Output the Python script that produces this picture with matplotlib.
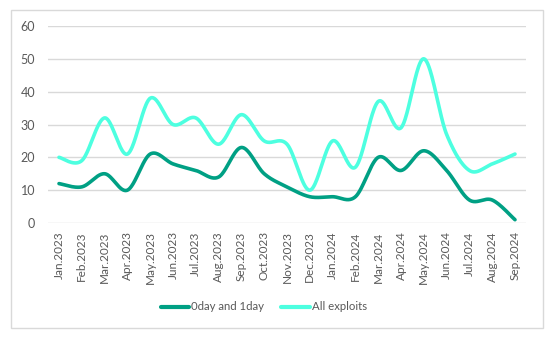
import numpy as np
import matplotlib
matplotlib.use("Agg")
import matplotlib.pyplot as plt
from matplotlib.patches import Rectangle

months = ["Jan.2023", "Feb.2023", "Mar.2023", "Apr.2023", "May.2023", "Jun.2023",
          "Jul.2023", "Aug.2023", "Sep.2023", "Oct.2023", "Nov.2023", "Dec.2023",
          "Jan.2024", "Feb.2024", "Mar.2024", "Apr.2024", "May.2024", "Jun.2024",
          "Jul.2024", "Aug.2024", "Sep.2024"]
zero_one_day = [12, 11, 15, 10, 21, 18, 16, 14, 23, 15, 11, 8,
                8, 8, 20, 16, 22, 16, 7, 7, 1]
all_exploits = [20, 19, 32, 21, 38, 30, 32, 24, 33, 25, 24, 10,
                25, 17, 37, 29, 50, 27, 16, 18, 21]

TEAL = "#00A084"
CYAN = "#4DFFE0"
GRID = "#D9D9D9"
TEXT = "#595959"


def smooth(y, n=40):
    """Cubic Bezier smoothing through every point (Catmull-Rom style)."""
    y = np.asarray(y, dtype=float)
    x = np.arange(len(y), dtype=float)
    px = np.concatenate([[x[0]], x, [x[-1]]])
    py = np.concatenate([[y[0]], y, [y[-1]]])
    xs, ys = [], []
    t = np.linspace(0, 1, n)
    for i in range(len(y) - 1):
        p0 = np.array([px[i + 1], py[i + 1]])
        p3 = np.array([px[i + 2], py[i + 2]])
        c1 = p0 + (np.array([px[i + 2], py[i + 2]]) - np.array([px[i], py[i]])) / 6
        c2 = p3 - (np.array([px[i + 3], py[i + 3]]) - np.array([px[i + 1], py[i + 1]])) / 6
        b = ((1 - t) ** 3)[:, None] * p0 + (3 * (1 - t) ** 2 * t)[:, None] * c1 \
            + (3 * (1 - t) * t ** 2)[:, None] * c2 + (t ** 3)[:, None] * p3
        xs.append(b[:, 0])
        ys.append(b[:, 1])
    return np.concatenate(xs), np.concatenate(ys)


plt.rcParams["font.family"] = ["Lato", "DejaVu Sans"]

W, H = 554, 337
fig = plt.figure(figsize=(W / 100, H / 100), dpi=100)
fig.patches.append(Rectangle((11 / W, 1 - 328 / H), 532 / W, 318 / H,
                             transform=fig.transFigure, fill=False,
                             edgecolor=GRID, linewidth=1.0))

ax = fig.add_axes([47.6 / W, 1 - 223 / H, (526.4 - 47.6) / W, (223 - 26) / H])
ax.set_xlim(-0.5, len(months) - 0.5)
ax.set_ylim(0, 60)
ax.set_yticks(range(0, 61, 10))
ax.grid(axis="y", color=GRID, linewidth=1.0)
ax.set_axisbelow(True)
for s in ax.spines.values():
    s.set_visible(False)

x1, y1 = smooth(zero_one_day)
x2, y2 = smooth(all_exploits)
ax.plot(x1, y1, color=TEAL, linewidth=2.6, solid_capstyle="round", label="0day and 1day", zorder=3)
ax.plot(x2, y2, color=CYAN, linewidth=2.6, solid_capstyle="round", label="All exploits", zorder=2)

ax.set_xticks(range(len(months)))
ax.set_xticklabels(months, rotation=90)
ax.tick_params(axis="both", length=0, labelsize=8.5, labelcolor=TEXT)
ax.tick_params(axis="y", labelsize=9, pad=9)
ax.tick_params(axis="x", pad=6)

leg = fig.legend(loc="center", bbox_to_anchor=(264 / W, 1 - 307 / H), ncol=2, frameon=False,
                 fontsize=8.2, handlelength=2.5, handletextpad=0.2, columnspacing=1.5,
                 labelcolor=TEXT)
for h in leg.get_lines():
    h.set_linewidth(3)

fig.savefig("out.png", dpi=100)
